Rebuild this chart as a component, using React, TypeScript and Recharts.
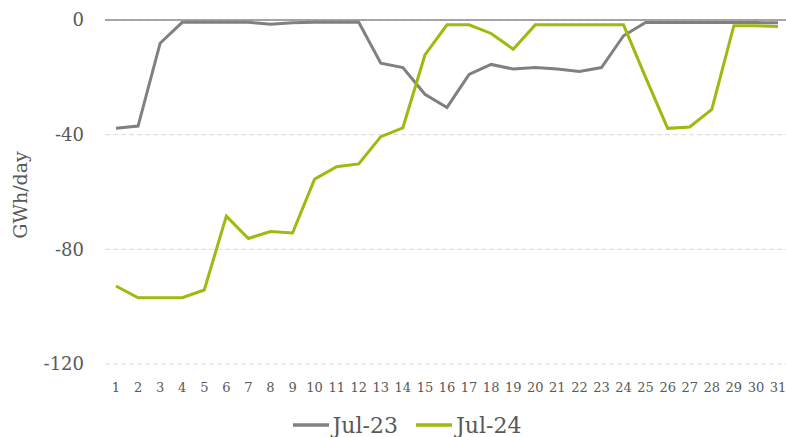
import { LineChart, Line, XAxis, YAxis, CartesianGrid, ReferenceLine, Legend, Label } from 'recharts';

// Days of the month (category axis)
const days = [
  1, 2, 3, 4, 5, 6, 7, 8, 9, 10, 11, 12, 13, 14, 15, 16,
  17, 18, 19, 20, 21, 22, 23, 24, 25, 26, 27, 28, 29, 30, 31,
];

// Daily values, GWh/day
const jul23 = [
  -37.8, -37.0, -8.1, -0.8, -0.8, -0.8, -0.8, -1.5, -1.0, -0.8, -0.8, -0.8, -15.1, -16.6, -25.9, -30.5,
  -19.0, -15.5, -17.1, -16.6, -17.1, -18.0, -16.6, -5.5, -0.9, -0.9, -0.9, -0.9, -0.9, -0.9, -1.0,
];
const jul24 = [
  -92.8, -96.9, -96.9, -96.9, -94.2, -68.4, -76.2, -73.8, -74.3, -55.5, -51.2, -50.2, -40.7, -37.6, -12.2, -1.7,
  -1.7, -4.7, -10.2, -1.7, -1.7, -1.7, -1.7, -1.7, -20.0, -37.8, -37.3, -31.2, -2.0, -2.0, -2.3,
];

const yTicks = [0, -40, -80, -120];

const data = days.map((day, i) => ({ day, jul23: jul23[i], jul24: jul24[i] }));

const FONT = 'DejaVu Serif';
const TEXT = '#595959';

const renderYLabel = (props: any) => {
  const vb = props.viewBox || {};
  const x = (vb.x ?? 0) + 20;
  const y = (vb.y ?? 0) + (vb.height ?? 0) / 2 + 3;
  return (
    <text
      x={x}
      y={y}
      transform={`rotate(-90, ${x}, ${y})`}
      textAnchor="middle"
      dominantBaseline="central"
      fill={TEXT}
      fontFamily={FONT}
      fontSize={19}
    >
      GWh/day
    </text>
  );
};

const renderLegend = (props: any) => {
  const { payload = [] } = props;
  return (
    <div
      style={{
        display: 'flex',
        justifyContent: 'center',
        alignItems: 'center',
        height: 30,
        paddingLeft: 46,
        fontFamily: FONT,
      }}
    >
      {payload.map((entry: any) => (
        <div key={entry.value} style={{ display: 'flex', alignItems: 'center', marginRight: 18 }}>
          <svg width={36} height={6} style={{ marginRight: 4 }}>
            <line x1={0} y1={3} x2={36} y2={3} stroke={entry.color} strokeWidth={3.5} />
          </svg>
          <span style={{ fontSize: 22, color: TEXT }}>{entry.value}</span>
        </div>
      ))}
    </div>
  );
};

export default function App() {
  return (
    <div style={{ position: 'absolute', left: 0, top: 0, background: '#fff' }}>
      <LineChart
        width={786}
        height={437}
        data={data}
        margin={{ top: 20, right: 0, left: 0, bottom: 13 }}
      >
        <CartesianGrid vertical={false} stroke="#d9d9d9" strokeDasharray="5 3" />
        <XAxis
          dataKey="day"
          interval={0}
          tickLine={false}
          axisLine={false}
          tickSize={0}
          tickMargin={19}
          height={30}
          padding={{ left: 11, right: 8 }}
          tick={{ fontSize: 13, fill: TEXT, fontFamily: FONT }}
        />
        <YAxis
          type="number"
          domain={[-120, 0]}
          ticks={yTicks}
          width={105}
          tickLine={false}
          axisLine={false}
          tickSize={0}
          tickMargin={21}
          tick={{ fontSize: 18, fill: TEXT, fontFamily: FONT }}
        >
          <Label content={renderYLabel} />
        </YAxis>
        <ReferenceLine y={0} stroke="#8a8a8a" strokeWidth={1.5} />
        <Legend
          verticalAlign="bottom"
          content={renderLegend}
          wrapperStyle={{ top: 410, left: 0, width: 786, height: 30 }}
        />
        <Line
          type="linear"
          dataKey="jul23"
          name="Jul-23"
          stroke="#808080"
          strokeWidth={3}
          dot={false}
          isAnimationActive={false}
        />
        <Line
          type="linear"
          dataKey="jul24"
          name="Jul-24"
          stroke="#9bbb0e"
          strokeWidth={3}
          dot={false}
          isAnimationActive={false}
        />
      </LineChart>
    </div>
  );
}
